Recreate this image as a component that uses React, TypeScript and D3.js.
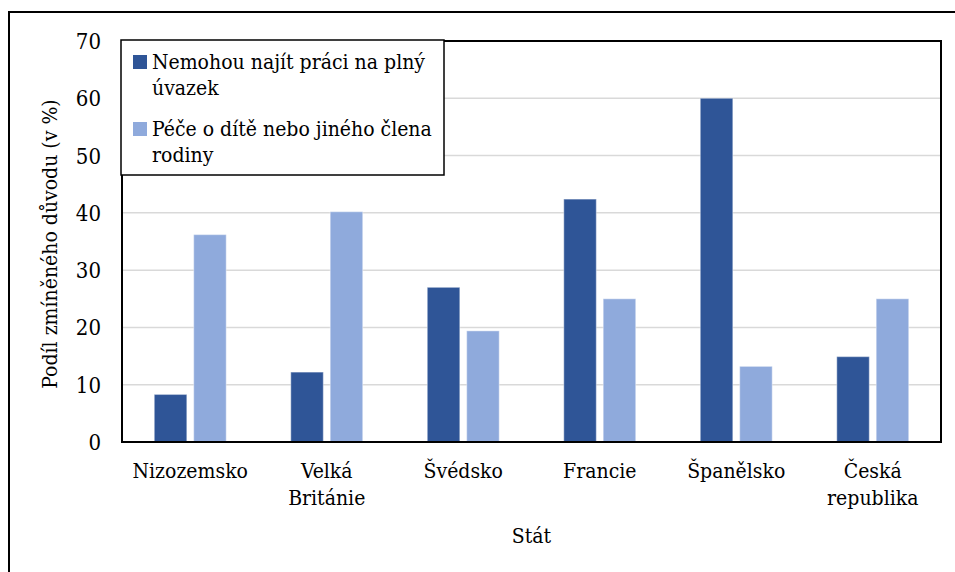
import React from "react";
import * as d3 from "d3";

const categories: string[][] = [
  ["Nizozemsko"],
  ["Velká", "Británie"],
  ["Švédsko"],
  ["Francie"],
  ["Španělsko"],
  ["Česká", "republika"],
];
const seriesNames: string[][] = [
  ["Nemohou najít práci na plný", "úvazek"],
  ["Péče o dítě nebo jiného člena", "rodiny"],
];
const fullTime: number[] = [8.3, 12.2, 27.0, 42.4, 60.0, 14.9];
const care: number[] = [36.2, 40.2, 19.4, 25.0, 13.2, 25.0];
const yTicks: number[] = [0, 10, 20, 30, 40, 50, 60, 70];
const colors = ["#2F5597", "#8FAADC"];
const yTitle = "Podíl zmíněného důvodu (v %)";
const xTitle = "Stát";

const W = 955;
const H = 572;
const L = 122, R = 941, T = 41, B = 442;
const FONT = "'DejaVu Serif Condensed', 'DejaVu Serif', serif";
const FS = 21;
const ts: React.CSSProperties = { fontFamily: FONT, fontSize: FS, fontStretch: "condensed" };
const tsBig: React.CSSProperties = { ...ts, fontSize: 22 };

export default function App() {
  const series = [fullTime, care];
  const x0 = d3
    .scaleBand<number>()
    .domain(categories.map((_, i) => i))
    .range([L, R])
    .paddingInner(0.473)
    .paddingOuter(0.2365);
  const x1 = d3
    .scaleBand<number>()
    .domain([0, 1])
    .range([0, x0.bandwidth()])
    .paddingInner(0.175);
  const y = d3.scaleLinear().domain([0, 70]).range([B, T]);

  return (
    <svg
      width={W}
      height={H}
      style={{ position: "absolute", left: 0, top: 0, background: "#fff" }}
    >
      <rect x={0} y={0} width={W} height={H} fill="#fff" />
      {/* outer chart border */}
      <rect x={9} y={12} width={W + 20} height={H + 20} fill="none" stroke="#000" strokeWidth={2} />

      {/* gridlines */}
      {yTicks
        .filter((t) => t > 0 && t < 70)
        .map((t) => (
          <line key={t} x1={L} x2={R} y1={y(t)} y2={y(t)} stroke="#D9D9D9" strokeWidth={1.5} />
        ))}

      {/* bars */}
      {categories.map((_, ci) =>
        series.map((s, si) => (
          <rect
            key={`${ci}-${si}`}
            x={(x0(ci) as number) + (x1(si) as number)}
            y={y(s[ci])}
            width={x1.bandwidth()}
            height={B - y(s[ci])}
            fill={colors[si]}
            stroke="#ffffff"
            strokeOpacity={0.35}
            strokeWidth={1.2}
          />
        ))
      )}

      {/* plot frame */}
      <rect x={L} y={T} width={R - L} height={B - T} fill="none" stroke="#000" strokeWidth={2} />

      {/* y tick labels */}
      {yTicks.map((t) => (
        <text key={t} x={101} y={y(t) + 8} textAnchor="end" style={tsBig} fill="#000">
          {t}
        </text>
      ))}

      {/* x category labels */}
      {categories.map((lines, ci) => (
        <text
          key={ci}
          x={(x0(ci) as number) + x0.bandwidth() / 2}
          y={478}
          textAnchor="middle"
          style={ts}
          fill="#000"
        >
          {lines.map((ln, li) => (
            <tspan key={li} x={(x0(ci) as number) + x0.bandwidth() / 2} dy={li === 0 ? 0 : 27}>
              {ln}
            </tspan>
          ))}
        </text>
      ))}

      {/* axis titles */}
      <text x={(L + R) / 2} y={543} textAnchor="middle" style={ts} fill="#000">
        {xTitle}
      </text>
      <text
        transform={`translate(57, ${244}) rotate(-90)`}
        textAnchor="middle"
        style={ts}
        fill="#000"
      >
        {yTitle}
      </text>

      {/* legend */}
      <rect x={121} y={40} width={323} height={135} fill="#fff" stroke="#000" strokeWidth={1.5} />
      {seriesNames.map((lines, si) => {
        const baseY = 69 + si * 67;
        return (
          <g key={si}>
            <rect x={133} y={baseY - 14} width={14} height={14} fill={colors[si]} />
            <text x={152} y={baseY} style={ts} fill="#000">
              {lines.map((ln, li) => (
                <tspan key={li} x={152} dy={li === 0 ? 0 : 26}>
                  {ln}
                </tspan>
              ))}
            </text>
          </g>
        );
      })}
    </svg>
  );
}
